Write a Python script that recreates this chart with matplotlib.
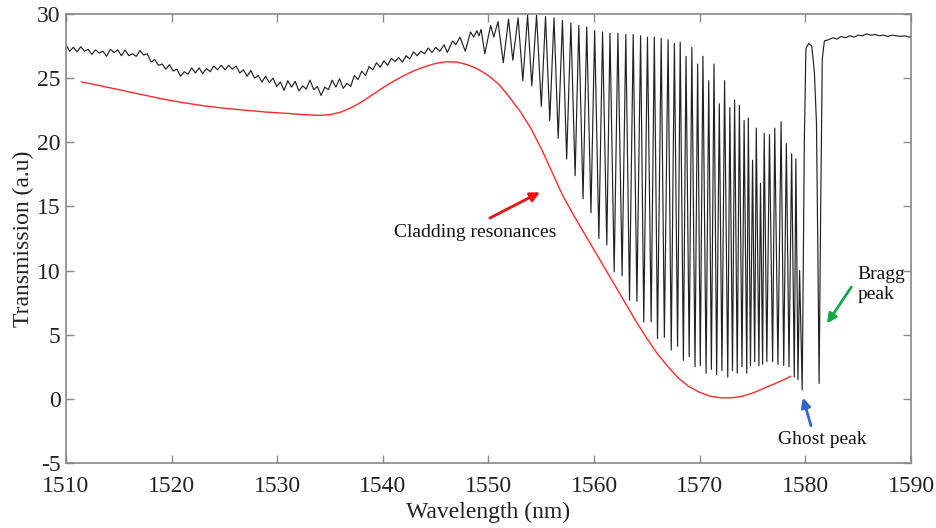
import matplotlib.pyplot as plt
import numpy as np

# --- data ---
# noisy baseline, 1510..1545 nm every 0.35 nm
base_wl = np.linspace(1510, 1545, 101)
base_t = [27.6, 27.1, 27.4, 27.05, 27.45, 27.1, 27.25, 26.85, 27.2, 26.95,
          27.1, 26.7, 27.25, 27.0, 27.2, 26.75, 27.2, 26.75, 26.9, 26.7,
          27.15, 26.8, 26.9, 26.25, 26.45, 26.0, 26.1, 25.7, 26.05, 25.55,
          25.7, 25.15, 25.5, 25.3, 25.8, 25.4, 25.8, 25.35, 25.75, 25.5,
          25.95, 25.65, 26.0, 25.65, 26.0, 25.7, 25.95, 25.4, 25.65, 25.15,
          25.6, 25.0, 25.2, 24.7, 25.15, 24.65, 25.0, 24.35, 24.7, 24.05,
          24.8, 24.3, 24.75, 24.0, 24.4, 24.15, 24.85, 24.1, 24.35, 23.65,
          24.3, 24.1, 24.85, 24.3, 24.95, 24.2, 24.6, 24.35, 25.2, 24.9,
          25.55, 25.2, 25.9, 25.65, 26.2, 25.85, 26.35, 26.0, 26.55, 26.3,
          26.6, 26.25, 26.75, 26.5, 27.05, 26.75, 27.1, 26.9, 27.35, 27.0,
          27.4]

# cladding-mode fringes: alternating peaks / troughs
fringe_wl = [1545.4, 1545.8, 1546.1, 1546.6, 1546.9, 1547.3, 1547.8, 1548.3, 1548.6, 1548.9,
             1549.1, 1549.3, 1549.65, 1550.2, 1550.5, 1550.9, 1551.4, 1551.9, 1552.3, 1552.8,
             1553.25, 1553.7, 1554.1, 1554.55, 1555.0, 1555.4, 1555.8, 1556.2, 1556.6, 1557.0,
             1557.4, 1557.8, 1558.2, 1558.55, 1558.95, 1559.3, 1559.7, 1560.05, 1560.45, 1560.8,
             1561.2, 1561.5, 1561.9, 1562.25, 1562.65, 1563.0, 1563.35, 1563.7, 1564.05, 1564.4,
             1564.7, 1565.05, 1565.4, 1565.7, 1566.0, 1566.35, 1566.65, 1567.0, 1567.3, 1567.6,
             1567.9, 1568.15, 1568.45, 1568.7, 1569.0, 1569.25, 1569.55, 1569.8, 1570.05, 1570.3,
             1570.6, 1570.85, 1571.1, 1571.35, 1571.6, 1571.85, 1572.1, 1572.35, 1572.65, 1572.85,
             1573.1, 1573.3, 1573.55, 1573.75, 1574.0, 1574.2, 1574.45, 1574.6, 1574.8, 1575.0,
             1575.2, 1575.35, 1575.6, 1575.75, 1575.95, 1576.1, 1576.35, 1576.6, 1576.9, 1577.1,
             1577.4, 1577.7, 1577.95, 1578.2, 1578.45, 1578.7, 1578.95, 1579.1, 1579.3, 1579.45,
             1579.7]
fringe_t = [27.1, 27.6, 27.0, 27.9, 27.6, 28.2, 27.1, 28.6, 28.2, 28.7,
            28.3, 28.8, 26.9, 29.1, 28.2, 29.4, 26.2, 29.6, 26.4, 29.7,
            24.8, 29.9, 24.4, 29.9, 22.8, 29.8, 21.7, 29.7, 20.3, 29.5,
            18.7, 29.3, 17.4, 29.1, 15.6, 29.0, 14.5, 28.7, 12.5, 28.6,
            12.0, 28.5, 9.9, 28.5, 9.6, 28.4, 7.7, 28.4, 7.6, 28.3,
            6.0, 28.2, 6.0, 28.2, 4.7, 28.1, 4.8, 28.0, 3.8, 27.7,
            4.1, 27.8, 3.0, 26.7, 3.3, 27.4, 2.5, 26.1, 2.6, 26.7,
            2.0, 24.8, 2.3, 26.1, 1.9, 23.0, 2.2, 24.8, 1.7, 22.7,
            2.2, 23.3, 2.0, 22.9, 2.5, 21.7, 2.0, 21.9, 2.6, 18.6,
            2.9, 21.1, 2.6, 16.8, 2.7, 20.7, 2.9, 20.6, 2.9, 21.1,
            2.7, 21.6, 2.6, 19.9, 2.5, 19.1, 1.7, 18.7, 1.5, 10.0,
            0.7]

# ghost dip -> Bragg dip -> flat tail
bragg_wl = [1579.9, 1580.05, 1580.3, 1580.6, 1580.85, 1581.05, 1581.2, 1581.3, 1581.45, 1581.6,
            1581.8, 1582.2, 1582.6, 1583.0, 1583.4, 1583.8, 1584.2, 1584.6, 1585.0, 1585.4,
            1585.8, 1586.2, 1586.6, 1587.0, 1587.4, 1587.8, 1588.2, 1588.6, 1589.0, 1589.4,
            1589.8, 1590.0]
bragg_t = [20.0, 27.3, 27.7, 27.5, 25.5, 21.5, 10.0, 1.2, 15.0, 26.5,
           27.9, 28.0, 28.15, 28.05, 28.25, 28.15, 28.3, 28.2, 28.35, 28.3,
           28.45, 28.35, 28.4, 28.3, 28.35, 28.25, 28.35, 28.3, 28.25, 28.3,
           28.2, 28.25]

# red envelope
env_wl = [1511.5, 1513, 1515, 1517, 1519, 1521, 1523, 1525, 1527, 1529,
          1531, 1532.5, 1534, 1535, 1536, 1537, 1538, 1539, 1540, 1541,
          1542, 1543, 1544, 1545, 1546, 1547, 1548, 1549, 1550, 1551,
          1552, 1553, 1554, 1555, 1556, 1557, 1558, 1559, 1560, 1561,
          1562, 1563, 1564, 1565, 1566, 1567, 1568, 1569, 1570, 1571,
          1572, 1573, 1574, 1575, 1576, 1577, 1578, 1578.6]
env_t = [24.7, 24.45, 24.1, 23.75, 23.4, 23.1, 22.85, 22.65, 22.5, 22.35,
         22.25, 22.15, 22.1, 22.15, 22.35, 22.7, 23.15, 23.7, 24.25, 24.75,
         25.2, 25.6, 25.9, 26.15, 26.28, 26.25, 26.05, 25.7, 25.2, 24.5,
         23.5, 22.4, 21.1, 19.5, 17.7, 15.9, 14.4, 13.0, 11.6, 10.2,
         8.8, 7.4, 6.0, 4.7, 3.5, 2.5, 1.6, 0.95, 0.5, 0.2,
         0.08, 0.08, 0.2, 0.45, 0.8, 1.15, 1.5, 1.75]

wl = np.concatenate([base_wl, fringe_wl, bragg_wl])
trans = np.concatenate([base_t, fringe_t, bragg_t])

plt.rcParams['font.family'] = 'serif'
plt.rcParams['font.serif'] = ['Liberation Serif', 'DejaVu Serif']
plt.rcParams['axes.unicode_minus'] = False

fig = plt.figure(figsize=(9.36, 5.28), dpi=100)
ax = fig.add_axes([0.0705, 0.1231, 0.9028, 0.8504])

ax.plot(wl, trans, color='#222222', lw=0.85)
ax.plot(env_wl, env_t, color='#ff2a2a', lw=1.0)

ax.set_xlim(1510, 1590)
ax.set_ylim(-5, 30)
ax.set_xticks(np.arange(1510, 1591, 10))
ax.set_yticks(np.arange(-5, 31, 5))
ax.tick_params(direction='in', top=True, right=True, length=6, width=1,
               color='#888888', labelsize=17, labelcolor='#222222')
ax.tick_params(axis='x', pad=9)
ax.tick_params(axis='y', pad=4)
for s in ax.spines.values():
    s.set_color('#888888')
    s.set_linewidth(1.2)
ax.set_xlabel('Wavelength (nm)', fontsize=17, color='#222222', labelpad=4)
ax.set_ylabel('Transmission (a.u)', fontsize=17, color='#222222', labelpad=2)

# annotations
ax.annotate('', xy=(1555.1, 16.2), xytext=(1549.9, 14.0),
            arrowprops=dict(arrowstyle='-|>', color='#ee1111', lw=2, mutation_scale=14))
ax.text(1548.7, 13.0, 'Cladding resonances', fontsize=14, ha='center', va='center', color='#111111')

ax.annotate('', xy=(1579.7, 0.3), xytext=(1580.6, -2.3),
            arrowprops=dict(arrowstyle='-|>', color='#3366cc', lw=2, mutation_scale=14))
ax.text(1581.6, -3.2, 'Ghost peak', fontsize=14, ha='center', va='center', color='#111111')

ax.annotate('', xy=(1581.9, 5.7), xytext=(1584.5, 8.9),
            arrowprops=dict(arrowstyle='-|>', color='#11aa44', lw=2, mutation_scale=14))
ax.text(1584.9, 8.9, 'Bragg\npeak', fontsize=14, ha='left', va='center', color='#111111',
        linespacing=1.2)

fig.savefig('out.png', dpi=100)
